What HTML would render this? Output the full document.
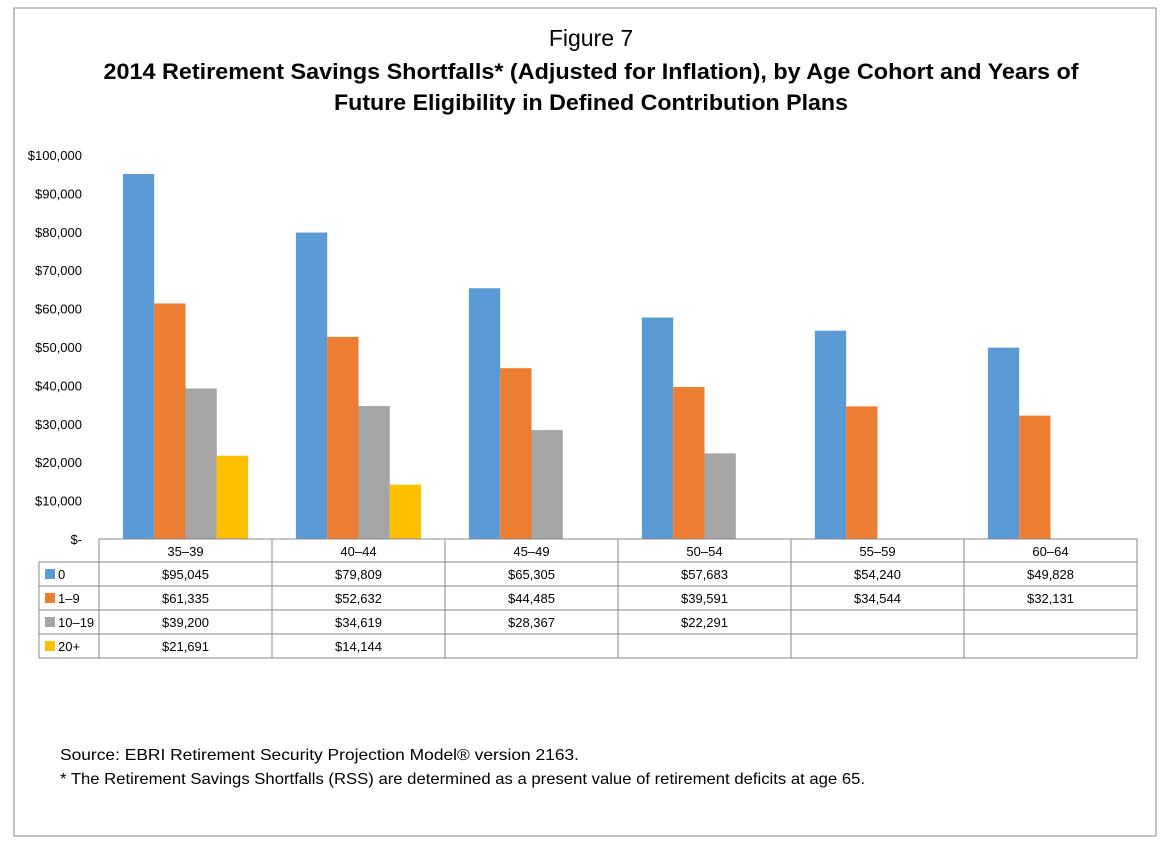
<!DOCTYPE html>
<html><head><meta charset="utf-8"><style>
body{margin:0;background:#fff;font-family:"Liberation Sans",sans-serif;}
svg{display:block}
</style></head><body>
<svg id="c" width="1174" height="844" xmlns="http://www.w3.org/2000/svg">
<rect x="14" y="8" width="1142" height="828" fill="#fff" stroke="#888"/>
<text x="591" y="46" text-anchor="middle" font-size="23" fill="#000">Figure 7</text>
<text x="591" y="79" text-anchor="middle" font-size="22" font-weight="bold" fill="#000" textLength="975" lengthAdjust="spacingAndGlyphs">2014 Retirement Savings Shortfalls* (Adjusted for Inflation), by Age Cohort and Years of</text>
<text x="591" y="110" text-anchor="middle" font-size="22" font-weight="bold" fill="#000" textLength="514" lengthAdjust="spacingAndGlyphs">Future Eligibility in Defined Contribution Plans</text>
<g id="axis"></g>
<g id="bars"></g>
<g id="table"></g>
<text x="60" y="760" font-size="16" fill="#000" textLength="519" lengthAdjust="spacingAndGlyphs">Source: EBRI Retirement Security Projection Model® version 2163.</text>
<text x="60" y="784" font-size="16" fill="#000" textLength="805" lengthAdjust="spacingAndGlyphs">* The Retirement Savings Shortfalls (RSS) are determined as a present value of retirement deficits at age 65.</text>
</svg>
<script>
const categories=["35–39","40–44","45–49","50–54","55–59","60–64"];
const seriesNames=["0","1–9","10–19","20+"];
const s0=[95045,79809,65305,57683,54240,49828];
const s1=[61335,52632,44485,39591,34544,32131];
const s2=[39200,34619,28367,22291,null,null];
const s3=[21691,14144,null,null,null,null];
const yTicks=[0,10000,20000,30000,40000,50000,60000,70000,80000,90000,100000];
const colors=["#5b9bd5","#ed7d31","#a5a5a5","#ffc000"];
const series=[s0,s1,s2,s3];
const NS="http://www.w3.org/2000/svg";
const y0=539,yTop=155,yMax=100000;
const y=v=>y0-(v/yMax)*(y0-yTop);
const colL=99,colW=173;
const x=i=>colL+i*colW;
function mk(t,a,p,txt){const e=document.createElementNS(NS,t);for(const k in a)e.setAttribute(k,a[k]);if(txt!=null)e.textContent=txt;p.appendChild(e);return e;}
const fmt=v=>"$"+v.toLocaleString("en-US");
const ax=document.getElementById("axis");
yTicks.forEach(v=>{
 const t=mk("text",{x:82,y:y(v)+5,"text-anchor":"end","font-size":"13",fill:"#000"},ax,v===0?"$-":fmt(v));
 
 
});
const bg=document.getElementById("bars");
const bw=31.3,pad=(colW-4*bw)/2;
series.forEach((s,si)=>s.forEach((v,i)=>{
 if(v==null)return;
 const r=mk("rect",{x:x(i)+pad+si*bw,y:y(v),width:bw,height:y0-y(v),fill:colors[si]},bg);
 
 
}));
const tb=document.getElementById("table");
const rowTop=[539,562,586,610,634,658];
const st={stroke:"#888","stroke-width":"1",fill:"none"};
mk("line",Object.assign({x1:colL,y1:539,x2:x(6),y2:539},st),tb);
for(let r=1;r<rowTop.length;r++) mk("line",Object.assign({x1:39,y1:rowTop[r],x2:x(6),y2:rowTop[r]},st),tb);
for(let c=0;c<=6;c++) mk("line",Object.assign({x1:x(c),y1:539,x2:x(c),y2:658},st),tb);
mk("line",Object.assign({x1:39,y1:562,x2:39,y2:658},st),tb);
categories.forEach((c,i)=>{
 const t=mk("text",{x:x(i)+colW/2,y:556,"text-anchor":"middle","font-size":"13",fill:"#000"},tb,c);
 
 
});
series.forEach((s,si)=>{
 const cy=rowTop[si+1]+12;
 const sw=mk("rect",{x:45,y:cy-5,width:10,height:10,fill:colors[si]},tb);
 
 
 const lt=mk("text",{x:58,y:cy+5,"font-size":"13",fill:"#000"},tb,seriesNames[si]);
 
 
 s.forEach((v,i)=>{
  if(v==null)return;
  const t=mk("text",{x:x(i)+colW/2,y:cy+5,"text-anchor":"middle","font-size":"13",fill:"#000"},tb,fmt(v));
  
  
 });
});
</script>
</body></html>
